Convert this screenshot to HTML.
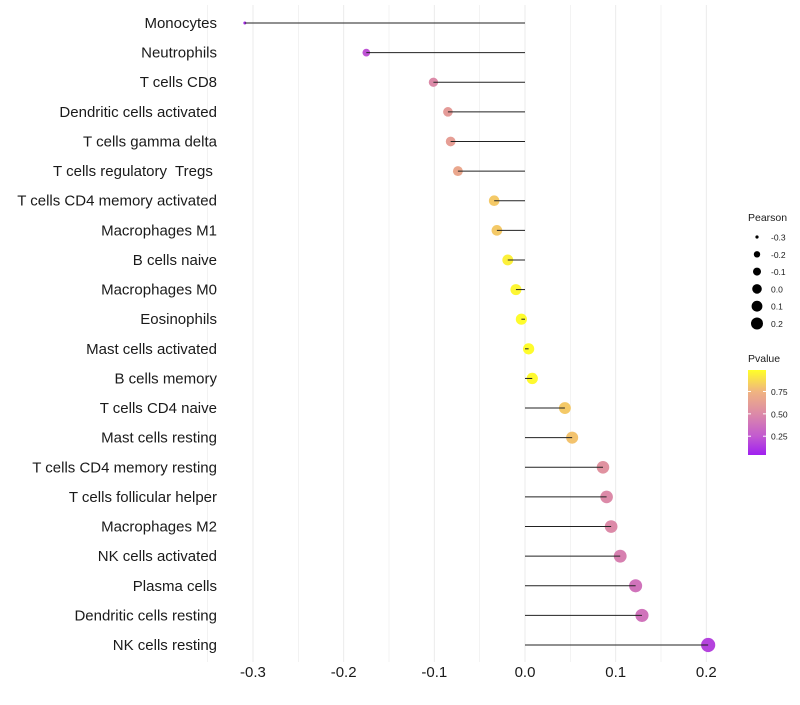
<!DOCTYPE html>
<html><head><meta charset="utf-8"><style>
body{margin:0;background:#fff;font-family:"Liberation Sans",sans-serif}
svg text{font-family:"Liberation Sans",sans-serif;white-space:pre}
</style></head><body>
<svg id="c" width="800" height="700"></svg>
<script>
const categories=["Monocytes","Neutrophils","T cells CD8","Dendritic cells activated","T cells gamma delta","T cells regulatory  Tregs ","T cells CD4 memory activated","Macrophages M1","B cells naive","Macrophages M0","Eosinophils","Mast cells activated","B cells memory","T cells CD4 naive","Mast cells resting","T cells CD4 memory resting","T cells follicular helper","Macrophages M2","NK cells activated","Plasma cells","Dendritic cells resting","NK cells resting"];
const pearson=[-0.309,-0.175,-0.101,-0.085,-0.082,-0.074,-0.034,-0.031,-0.019,-0.010,-0.004,0.004,0.008,0.044,0.052,0.086,0.090,0.095,0.105,0.122,0.129,0.202];
const pvalues=[0.05,0.22,0.5,0.6,0.62,0.67,0.82,0.82,0.95,0.97,0.99,0.99,0.98,0.82,0.8,0.55,0.5,0.5,0.45,0.38,0.38,0.15];
const xTicks=[-0.3,-0.2,-0.1,0.0,0.1,0.2];
const sizeLegend=[-0.3,-0.2,-0.1,0.0,0.1,0.2];
const pTicks=[0.25,0.50,0.75];
const NS="http://www.w3.org/2000/svg";
const svg=document.getElementById('c');
function mk(t,a,p){const e=document.createElementNS(NS,t);for(const k in a)e.setAttribute(k,a[k]);(p||svg).appendChild(e);return e;}
const x=v=>525+v*906.7;
const y=i=>23+i*29.62;
const stops=[[0,[160,32,240]],[0.25,[194,90,208]],[0.5,[220,138,168]],[0.75,[240,180,128]],[1,[255,255,40]]];
function col(p){p=Math.max(0,Math.min(1,p));for(let i=1;i<stops.length;i++){if(p<=stops[i][0]){const a=stops[i-1],b=stops[i];const t=(p-a[0])/(b[0]-a[0]);return 'rgb('+a[1].map((c,k)=>Math.round(c+(b[1][k]-c)*t)).join(',')+')';}}return 'rgb(255,255,40)';}
const vmin=Math.min(...pearson),vmax=Math.max(...pearson);
const rad=v=>Math.sqrt(2.25+48*(v-vmin)/(vmax-vmin));
for(let k=-7;k<=4;k++){const v=k*0.05;const g=mk('line',{x1:x(v),x2:x(v),y1:5,y2:662,stroke:'#ebebeb','stroke-width':k%2===0?1:0.6});}
categories.forEach((c,i)=>{
 const t=mk('text',{x:217,y:y(i)+5,'text-anchor':'end','font-size':15,fill:'#1a1a1a'});t.textContent=c;
 
 const d=mk('circle',{cx:x(pearson[i]),cy:y(i),r:rad(pearson[i]),fill:col(pvalues[i])});
 
 const s=mk('line',{x1:x(0),x2:x(pearson[i]),y1:y(i),y2:y(i),stroke:'#222','stroke-width':1});
 
});
xTicks.forEach(v=>{const t=mk('text',{x:x(v),y:677,'text-anchor':'middle','font-size':15,fill:'#1a1a1a'});t.textContent=v.toFixed(1);
 });
let t=mk('text',{x:748,y:221,'font-size':10.5,fill:'#1a1a1a'});t.textContent='Pearson';

const lr=[1.6,3.2,4.0,4.8,5.4,6.0];
sizeLegend.forEach((v,i)=>{const cy=237+i*17.3;
 const d=mk('circle',{cx:757,cy:cy,r:lr[i],fill:'#000'});
 const tt=mk('text',{x:771,y:cy+3.5,'font-size':8.5,fill:'#1a1a1a'});tt.textContent=v.toFixed(1);
 });
t=mk('text',{x:748,y:362,'font-size':10.5,fill:'#1a1a1a'});t.textContent='Pvalue';

const defs=mk('defs',{});const lg=mk('linearGradient',{id:'g',x1:0,y1:1,x2:0,y2:0},defs);
const pmin=0.04,pmax=0.99;
stops.forEach(s=>{const off=Math.max(0,Math.min(1,(s[0]-pmin)/(pmax-pmin)));mk('stop',{offset:off,'stop-color':'rgb('+s[1].join(',')+')'},lg);});
const bar=mk('rect',{x:748,y:370,width:18,height:85,fill:'url(#g)'});

const py=p=>455-(p-pmin)*(85/(pmax-pmin));
pTicks.forEach(p=>{mk('line',{x1:748,x2:751,y1:py(p),y2:py(p),stroke:'#fff'});mk('line',{x1:763,x2:766,y1:py(p),y2:py(p),stroke:'#fff'});
 const tt=mk('text',{x:771,y:py(p)+3.5,'font-size':8.5,fill:'#1a1a1a'});tt.textContent=p.toFixed(2);
 });
</script>
</body></html>
